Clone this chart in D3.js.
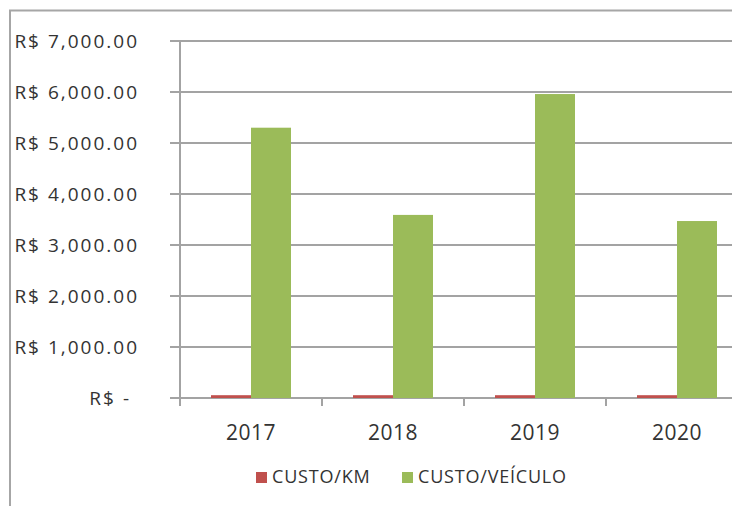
<!DOCTYPE html>
<html>
<head>
<meta charset="utf-8">
<script src="https://cdn.jsdelivr.net/npm/d3@7"></script>
<style>
  body { margin: 0; background: #fff; }
  text { font-family: "Open Sans", "Noto Sans", sans-serif; fill: #333; }
</style>
</head>
<body>
<script>
//chart data
var years = ["2017", "2018", "2019", "2020"];
var seriesNames = ["CUSTO/KM", "CUSTO/VEÍCULO"];
var custoKm = [55, 55, 55, 55];
var custoVeiculo = [5300, 3590, 5960, 3470];
var yTicks = [0, 1000, 2000, 3000, 4000, 5000, 6000, 7000];
var seriesColors = ["#c0504d", "#9bbb59"];

window.onload = function(){

    var w = 732, h = 506;

    var svg = d3.select("body")
        .append("svg")
        .attr("width", w)
        .attr("height", h);

    //outer chart frame (runs off the right and bottom edge)
    svg.append("rect")
        .attr("x", 10)
        .attr("y", 10.5)
        .attr("width", 800)
        .attr("height", 600)
        .style("fill", "none")
        .style("stroke", "#a6a6a6")
        .style("stroke-width", 2);

    //scales
    var x0 = d3.scaleBand()
        .domain(years)
        .range([180, 748]);

    var x1 = d3.scaleBand()
        .domain(seriesNames)
        .range([0, x0.bandwidth()])
        .paddingOuter(0.775);

    var y = d3.scaleLinear()
        .domain([0, 7000])
        .range([398, 41]);

    var fmt = d3.format(",.2f");

    //gridlines
    svg.selectAll(".grid")
        .data(yTicks)
        .enter()
        .append("line")
        .attr("class", "grid")
        .attr("x1", 170)
        .attr("x2", 748)
        .attr("y1", function(d){ return y(d); })
        .attr("y2", function(d){ return y(d); })
        .style("stroke", "#a3a3a3")
        .style("stroke-width", 2);

    //bars
    var rows = years.map(function(yr, i){
        return [
            { year: yr, key: seriesNames[0], value: custoKm[i] },
            { year: yr, key: seriesNames[1], value: custoVeiculo[i] }
        ];
    });

    svg.selectAll(".grp")
        .data(rows)
        .enter()
        .append("g")
        .attr("class", "grp")
        .attr("transform", function(d){ return "translate(" + x0(d[0].year) + ",0)"; })
        .selectAll("rect")
        .data(function(d){ return d; })
        .enter()
        .append("rect")
        .attr("x", function(d){ return x1(d.key); })
        .attr("width", x1.bandwidth())
        .attr("y", function(d){ return y(d.value); })
        .attr("height", function(d){ return y(0) - y(d.value); })
        .style("fill", function(d, i){ return seriesColors[i]; });

    //y axis
    var yAxis = d3.axisLeft(y)
        .tickValues(yTicks)
        .tickSize(0)
        .tickPadding(41)
        .tickFormat(function(d){ return d === 0 ? "R$ -" : "R$ " + fmt(d); });

    var ya = svg.append("g")
        .attr("transform", "translate(180,0)")
        .call(yAxis);
    ya.select(".domain").remove();
    ya.selectAll("text")
        .style("font-size", "19px")
        .style("letter-spacing", "2px")
        .style("fill", "#333")
        .attr("dx", function(d){ return d === 0 ? -8 : 0; });

    //vertical axis line
    svg.append("line")
        .attr("x1", 180).attr("x2", 180)
        .attr("y1", y(7000)).attr("y2", 406)
        .style("stroke", "#a3a3a3")
        .style("stroke-width", 2);

    //category tick marks between years
    svg.selectAll(".ctick")
        .data(years.slice(1))
        .enter()
        .append("line")
        .attr("class", "ctick")
        .attr("x1", function(d){ return x0(d); })
        .attr("x2", function(d){ return x0(d); })
        .attr("y1", y(0))
        .attr("y2", 406)
        .style("stroke", "#a3a3a3")
        .style("stroke-width", 2);

    //x axis labels
    var xAxis = d3.axisBottom(x0).tickSize(0).tickPadding(27);
    var xa = svg.append("g")
        .attr("transform", "translate(0," + y(0) + ")")
        .call(xAxis);
    xa.select(".domain").remove();
    xa.selectAll("text")
        .style("font-size", "21px")
        .style("letter-spacing", "0.5px")
        .style("fill", "#333");

    //legend
    var legendX = [256, 402];
    var leg = svg.selectAll(".legend")
        .data(seriesNames)
        .enter()
        .append("g")
        .attr("class", "legend")
        .attr("transform", function(d, i){ return "translate(" + legendX[i] + ",472)"; });

    leg.append("rect")
        .attr("width", 11)
        .attr("height", 11)
        .style("fill", function(d, i){ return seriesColors[i]; });

    leg.append("text")
        .attr("x", 16)
        .attr("y", 11)
        .style("font-size", "18px")
        .style("letter-spacing", "0.8px")
        .text(function(d){ return d; });
};
</script>
</body>
</html>
